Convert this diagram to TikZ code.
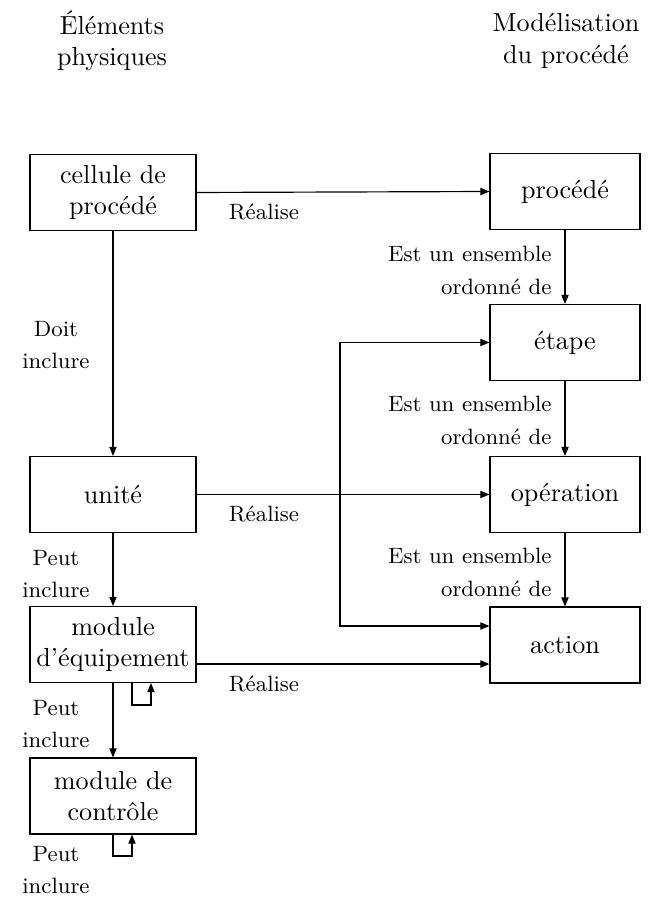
\documentclass[tikz,border=0pt]{standalone}
\usetikzlibrary{arrows.meta}
\begin{document}
\begin{tikzpicture}[x=0.383pt,y=-0.383pt,
  lbox/.style={draw,line width=0.45pt,minimum width=63.6pt,minimum height=29.1pt,inner sep=0pt,align=center,font=\normalsize},
  rbox/.style={draw,line width=0.45pt,minimum width=57.45pt,minimum height=29.1pt,inner sep=0pt,align=center,font=\normalsize},
  lab/.style={inner sep=0pt,font=\fontsize{8.5pt}{12.6pt}\selectfont},
  head/.style={inner sep=0pt,align=center,font=\normalsize},
  arr/.style={line width=0.45pt,-{Triangle[length=3.5pt,width=2.8pt]}},
  ln/.style={line width=0.45pt}]
\useasboundingbox (0,0) rectangle (657,897);
% headers
\node[head] (h1) at (112,41) {Éléments\\physiques};
\node[head] (h2) at (566,41) {Modélisation\\du procédé};
% left column
\node[lbox] (cell) at (113,192.5) {cellule de\\procédé};
\node[lbox] (unite) at (113,494.5) {unité};
\node[lbox] (equip) at (113,644.5) {module\\d’équipement};
\node[lbox] (ctrl) at (113,796) {module de\\contrôle};
% right column
\node[rbox] (proc) at (565,191.5) {procédé};
\node[rbox] (etape) at (565,342.5) {étape};
\node[rbox] (oper) at (565,494.5) {opération};
\node[rbox] (action) at (565,645) {action};
% horizontal arrows
\draw[arr] (cell.east) -- (proc.west);
\node[lab] (r1) at (264,212) {Réalise};
\draw[arr] (unite.east) -- (oper.west);
\node[lab] (r2) at (264,514) {Réalise};
\coordinate (ry) at (0,664);
\draw[arr] (equip.east |- ry) -- (action.west |- ry);
\node[lab] (r3) at (264,684) {Réalise};
% bracket
\coordinate (bt) at (340,342.5);
\coordinate (bb) at (340,626);
\draw[line width=0.45pt,{Triangle[length=3.5pt,width=2.8pt]}-{Triangle[length=3.5pt,width=2.8pt]}] (etape.west) -- (bt) -- (bb) -- (action.west |- bb);
% left vertical
\draw[arr] (cell.south) -- (unite.north);
\node[lab,align=center] (l1) at (56,345) {Doit\\inclure};
\draw[arr] (unite.south) -- (equip.north);
\node[lab,align=center] (l2) at (56,574) {Peut\\inclure};
\draw[arr] (equip.south) -- (ctrl.north);
\node[lab,align=center] (l3) at (56,724) {Peut\\inclure};
\node[lab,align=center] (l4) at (56,870) {Peut\\inclure};
% self loops
\coordinate (s1) at (132,705);
\coordinate (s2) at (151,705);
\draw[arr] (equip.south -| s1) -- (s1) -- (s2) -- (equip.south -| s2);
\coordinate (t1) at (113,856);
\coordinate (t2) at (132,856);
\draw[arr] (ctrl.south -| t1) -- (t1) -- (t2) -- (ctrl.south -| t2);
% right vertical
\draw[arr] (proc.south) -- (etape.north);
\node[lab,align=right,anchor=east] (e1) at (552,270) {Est un ensemble\\ordonné de};
\draw[arr] (etape.south) -- (oper.north);
\node[lab,align=right,anchor=east] (e2) at (552,420) {Est un ensemble\\ordonné de};
\draw[arr] (oper.south) -- (action.north);
\node[lab,align=right,anchor=east] (e3) at (552,572) {Est un ensemble\\ordonné de};
\end{tikzpicture}
\end{document}
